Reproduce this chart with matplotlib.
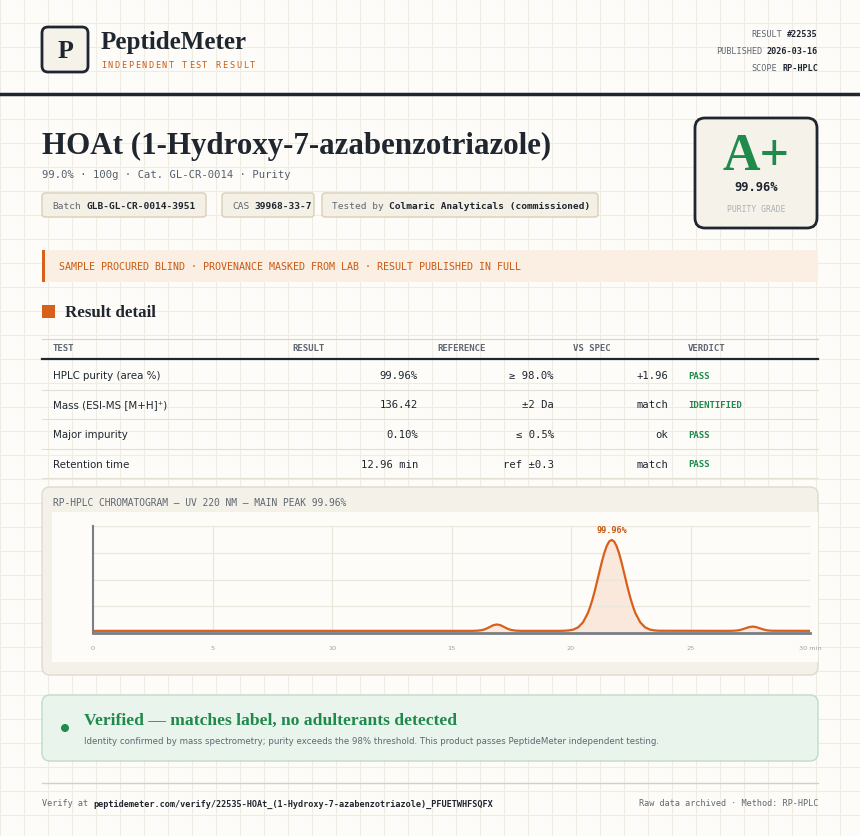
import matplotlib
matplotlib.use("Agg")
import matplotlib.pyplot as plt
from matplotlib.patches import FancyBboxPatch, Rectangle, Circle

# ---------------- data ----------------
meta_labels = ["RESULT", "PUBLISHED", "SCOPE"]
meta_values = ["#22535", "2026-03-16", "RP-HPLC"]
chips_lbl = ["Batch", "CAS", "Tested by"]
chips_val = ["GLB-GL-CR-0014-3951", "39968-33-7", "Colmaric Analyticals (commissioned)"]
table_cols = ["TEST", "RESULT", "REFERENCE", "VS SPEC", "VERDICT"]
tests = ["HPLC purity (area %)", "Mass (ESI-MS [M+H]⁺)", "Major impurity", "Retention time"]
results = ["99.96%", "136.42", "0.10%", "12.96 min"]
references = ["≥ 98.0%", "±2 Da", "≤ 0.5%", "ref ±0.3"]
vs_spec = ["+1.96", "match", "ok", "match"]
verdicts = ["PASS", "IDENTIFIED", "PASS", "PASS"]
rt_min = [0, 15.5, 15.9, 16.1, 16.3, 16.45, 16.6, 16.75, 16.9, 17.05, 17.2, 17.35, 17.5, 17.7, 17.9,
          19.5, 19.7, 19.9, 20.1, 20.3, 20.5, 20.7, 20.8, 20.9, 21.0, 21.1, 21.2, 21.3, 21.4, 21.5, 21.6,
          21.7, 21.8, 21.9, 22.0, 22.1, 22.2, 22.3, 22.4, 22.5, 22.6, 22.7, 22.9, 23.1, 23.3, 23.5, 23.7,
          26.6, 26.8, 27.0, 27.15, 27.3, 27.45, 27.6, 27.75, 27.9, 28.05, 28.2, 28.4, 30]
signal = [2, 2, 2.0, 2.2, 2.8, 3.95, 5.6, 7.3, 8.0, 7.3, 5.6, 3.95, 2.8, 2.2, 2.0,
          2.0, 2.1, 2.4, 3.2, 5.3, 9.9, 18.3, 24.3, 31.5, 39.8, 48.9, 58.2, 67.3, 75.3, 81.6, 85.6,
          87.0, 85.6, 81.6, 75.3, 67.3, 58.2, 48.9, 39.8, 31.5, 24.3, 18.3, 9.9, 5.3, 3.2, 2.4, 2.1,
          2.0, 2.1, 2.5, 3.3, 4.4, 5.5, 6.0, 5.5, 4.4, 3.3, 2.5, 2.1, 2.0]
x_ticks = [0, 5, 10, 15, 20, 25, 30]
main_peak_label = "99.96%"

# ---------------- style ----------------
DARK = "#1f2630"; ORANGE = "#d9601a"; GREEN = "#1f8a4c"; GRAY = "#5f6772"
BG = "#fdfcf8"; GRID = "#efece4"; CHIP = "#f4f0e6"; CHIPB = "#d9cfb9"
SERIF = "Liberation Serif"; MONO = "DejaVu Sans Mono"; SANS = "DejaVu Sans"
W, H = 860, 837

fig = plt.figure(figsize=(8.6, 8.37), dpi=100, facecolor=BG)
ax = fig.add_axes([0, 0, 1, 1])
ax.set_xlim(0, W); ax.set_ylim(H, 0); ax.axis("off")

def pt(px):
    return px * 0.72

for gx in range(0, W, 24):
    ax.plot([gx, gx], [0, H], color=GRID, lw=0.8, zorder=0)
for gy in range(0, H, 24):
    ax.plot([0, W], [gy, gy], color=GRID, lw=0.8, zorder=0)

def rbox(x0, y0, x1, y1, fc, ec, lw=1, r=4, z=1):
    ax.add_patch(FancyBboxPatch((x0, y0), x1 - x0, y1 - y0,
                                boxstyle=f"round,pad=0,rounding_size={r}",
                                fc=fc, ec=ec, lw=lw, zorder=z))

# header
rbox(42, 28, 88, 73, "#f5f2ea", DARK, lw=2, r=6)
ax.text(65, 51, "P", family=SERIF, weight="bold", fontsize=pt(26), color=DARK, ha="center", va="center")
ax.text(101, 42, "PeptideMeter", family=SERIF, weight="bold", fontsize=pt(25), color=DARK, va="center")
for i, ch in enumerate("INDEPENDENT TEST RESULT"):
    ax.text(101 + i * 6.75, 65, ch, family=MONO, fontsize=pt(8.5), color="#c85a12", va="center")
cw = 0.6 * 8.5
for i, (l, v) in enumerate(zip(meta_labels, meta_values)):
    y = 34 + 17 * i
    ax.text(818, y, v, family=MONO, weight="bold", fontsize=pt(8.5), color=DARK, ha="right", va="center")
    ax.text(818 - cw * (len(v) + 1), y, l, family=MONO, fontsize=pt(8.5), color=GRAY, ha="right", va="center")
ax.plot([0, W], [95, 95], color=DARK, lw=2.5)

# title
ax.text(42, 146, "HOAt (1-Hydroxy-7-azabenzotriazole)", family=SERIF, weight="bold",
        fontsize=pt(31), color=DARK, va="center")
ax.text(42, 175, "99.0% · 100g · Cat. GL-CR-0014 · Purity", family=MONO, fontsize=pt(10.5),
        color="#55606e", va="center")
chip_x = [(42, 206), (222, 314), (322, 598)]
for (x0, x1), l, v in zip(chip_x, chips_lbl, chips_val):
    rbox(x0, 194, x1, 218, CHIP, CHIPB, lw=1, r=3)
    ax.text(x0 + 10, 206, l, family=MONO, fontsize=pt(9.5), color=GRAY, va="center")
    ax.text(x0 + 10 + 0.6 * 9.5 * (len(l) + 1), 206, v, family=MONO, weight="bold",
            fontsize=pt(9.5), color=DARK, va="center")

# grade
rbox(695, 119, 817, 229, "#f5f2ea", DARK, lw=2, r=10)
ax.text(756, 157, "A+", family=SERIF, weight="bold", fontsize=pt(52), color=GREEN, ha="center", va="center")
ax.text(756, 187, "99.96%", family=MONO, weight="bold", fontsize=pt(12), color=DARK, ha="center", va="center")
ax.text(756, 209, "PURITY GRADE", family=MONO, fontsize=pt(8), color="#aab0b6", ha="center", va="center")

# banner
ax.add_patch(Rectangle((42, 251), 776, 32, fc="#fbeee3", ec="none", zorder=1))
ax.add_patch(Rectangle((42, 251), 3, 32, fc=ORANGE, ec="none", zorder=2))
ax.text(59, 267, "SAMPLE PROCURED BLIND · PROVENANCE MASKED FROM LAB · RESULT PUBLISHED IN FULL",
        family=MONO, fontsize=pt(10), color="#c85a12", va="center")

# result detail
ax.add_patch(Rectangle((42, 306), 13, 13, fc=ORANGE, ec="none"))
ax.text(65, 313, "Result detail", family=SERIF, weight="bold", fontsize=pt(17), color=DARK, va="center")
ax.plot([42, 818], [340, 340], color="#d9d3c4", lw=0.8)
hx = [53, 292, 437, 573, 688]
for x, c in zip(hx, table_cols):
    ax.text(x, 348, c, family=MONO, weight="bold", fontsize=pt(9), color=GRAY, va="center")
ax.plot([42, 818], [360, 360], color=DARK, lw=1.6)
for i in range(len(tests)):
    y = 376 + 29.5 * i
    ax.text(53, y, tests[i], family=SANS, fontsize=pt(10.3), color=DARK, va="center")
    ax.text(418, y, results[i], family=MONO, fontsize=pt(10.5), color=DARK, ha="right", va="center")
    ax.text(554, y, references[i], family=MONO, fontsize=pt(10.5), color=DARK, ha="right", va="center")
    ax.text(668, y, vs_spec[i], family=MONO, fontsize=pt(10.5), color=DARK, ha="right", va="center")
    ax.text(688, y, verdicts[i], family=MONO, weight="bold", fontsize=pt(9), color=GREEN, va="center")
    ax.plot([42, 818], [y + 14.5, y + 14.5], color="#e4dfd3", lw=0.8)

# chromatogram panel
rbox(42, 488, 818, 676, "#f4f1e9", "#e0dace", lw=1, r=8)
ax.text(53, 503, "RP-HPLC CHROMATOGRAM — UV 220 NM — MAIN PEAK 99.96%", family=MONO,
        fontsize=pt(9.7), color=GRAY, va="center")
ax.add_patch(Rectangle((52, 513), 766, 150, fc=BG, ec="none", zorder=1))

cax = fig.add_axes([93 / W, 1 - 634 / H, (810 - 93) / W, (634 - 527) / H])
cax.set_facecolor(BG)
cax.set_xlim(0, 30); cax.set_ylim(0, 100)
cax.fill_between(rt_min, signal, 0, color="#f9e4d4", alpha=0.8, lw=0)
cax.plot(rt_min, signal, color=ORANGE, lw=1.6, zorder=3)
cax.set_xticks(x_ticks)
cax.set_xticklabels([str(t) for t in x_ticks[:-1]] + ["30 min"])
cax.set_yticks([25, 50, 75, 100])
cax.set_yticklabels([])
cax.grid(True, color="#ece7dc", lw=0.9)
cax.tick_params(length=0, labelsize=pt(6.5), labelcolor="#9aa0a8", pad=9)
for s in ["top", "right"]:
    cax.spines[s].set_visible(False)
cax.spines["left"].set_color("#7a7f86"); cax.spines["left"].set_linewidth(1.5)
cax.spines["bottom"].set_color("#7a7f86"); cax.spines["bottom"].set_linewidth(2)
pk = signal.index(max(signal))
cax.annotate(main_peak_label, (rt_min[pk], signal[pk]), xytext=(0, 6), textcoords="offset points",
             ha="center", fontsize=pt(8.5), family=MONO, weight="bold", color="#c85a12")

# verified
rbox(42, 696, 818, 762, "#e9f4ec", "#bfdcc6", lw=1, r=8)
ax.add_patch(Circle((65, 729), 4, fc=GREEN, ec="none", zorder=3))
ax.text(84, 721, "Verified — matches label, no adulterants detected", family=SERIF, weight="bold",
        fontsize=pt(17.5), color=GREEN, va="center")
ax.text(84, 742, "Identity confirmed by mass spectrometry; purity exceeds the 98% threshold. "
        "This product passes PeptideMeter independent testing.", family=SANS, fontsize=pt(8.7),
        color=GRAY, va="center")

# footer
ax.plot([42, 818], [784, 784], color="#d9cfb9", lw=1)
fs = 8.5
ax.text(42, 804, "Verify at", family=MONO, fontsize=pt(fs), color=GRAY, va="center")
ax.text(42 + 0.6 * fs * 10, 804, "peptidemeter.com/verify/22535-HOAt_(1-Hydroxy-7-azabenzotriazole)_PFUETWHFSQFX",
        family=MONO, weight="bold", fontsize=pt(fs), color=DARK, va="center")
ax.text(818, 804, "Raw data archived · Method: RP-HPLC", family=MONO, fontsize=pt(fs),
        color=GRAY, ha="right", va="center")

fig.savefig("out.png", dpi=100, facecolor=BG)
